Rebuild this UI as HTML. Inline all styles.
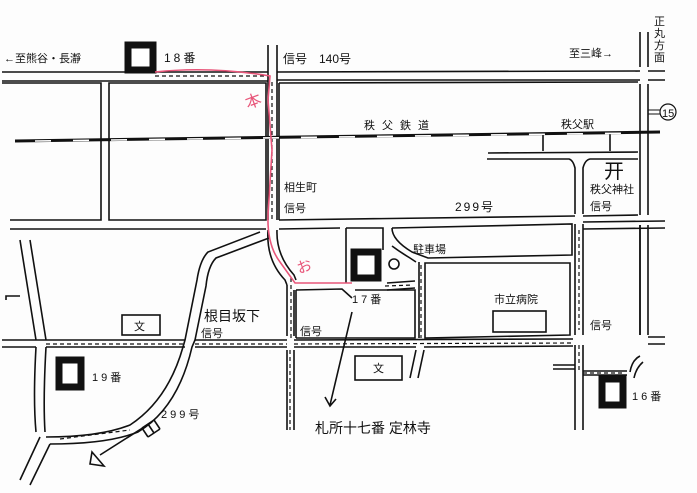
<!DOCTYPE html>
<html><head><meta charset="utf-8"><style>
html,body{margin:0;padding:0;background:#fff;}
svg{display:block;}
text{font-family:"Liberation Sans","Noto Sans CJK JP",sans-serif;fill:#111;}
</style></head><body>
<svg width="697" height="493" viewBox="0 0 697 493" xmlns="http://www.w3.org/2000/svg">
<rect width="697" height="493" fill="#fdfdfd"/>
<g fill="none" stroke="#111" stroke-width="1.6">
<path d="M2 72 L268 72 M277 72 L640 71 M2 81 L268 81 M277 80 L640 80"/>
<path d="M648 71 L665 71 M648 80 L665 80"/>
<path d="M640 32 L640 67 M648 32 L648 67"/>
<path d="M640 84 L640 215 M648 84 L648 215 M640 225 L640 335 M648 225 L648 335"/>
<path d="M648 337 L665 337 M648 344 L665 344"/>
<path d="M268 45 L268 220 M277 45 L277 220"/>
<path d="M2 83 L101 83 L101 220 L10 220"/>
<path d="M109 83 L266 83 L266 220 L109 220 Z"/>
<path d="M279 83 L638 82 M279 220 L279 83"/>
<path d="M543 135 L543 151 M610 134 L610 151"/>
<path d="M488 153 L638 152 M487 159 L569 159 Q573 160 575 168 L575 214 M583 214 L583 168 Q585 160 590 159 L638 159"/>
<path d="M279 220 L575 216 M583 216 L638 215"/>
<path d="M10 229 L266 229 M279 229 L340 228"/>
<path d="M575 224 L575 335 M583 224 L583 335 M640 225 L640 335"/>
<path d="M583 222 L665 221 M583 229 L665 228"/>
<path d="M346 228 L383 228 L383 250 M346 228 L346 283"/>
<path d="M392 228 L572 224 L572 255 L428 258 L412 252 Q392 240 392 228"/>
<path d="M392 246 Q400 252 410 258 L416 262"/>
<path d="M425 263 L570 263 L570 335 L425 338 Z"/>
<path d="M419 262 L419 338 M387 290 L415 288 M387 283 L415 281"/>
<path d="M296 290 L296 338 M296 290 L342 289 L352 298 M355 290 L415 290 L415 338 L296 338"/>
<path d="M287 285 L287 336 M287 350 L287 430 M294 350 L294 430 M294 290 L294 336"/>
<path d="M268 230 Q266 260 285 280 L287 285 M277 230 Q276 255 294 275 L296 280"/>
<path d="M2 340 L185 340 M195 340 L287 340 M294 340 L573 339 M2 347 L36 347 M46 347 L185 347 M195 347 L287 347 M294 347 L416 347 M424 347 L573 346"/>
<path d="M416 350 L410 378 M424 350 L418 378"/>
<path d="M553 365 L575 365 M553 369 L575 369 M575 345 L575 430 M583 345 L583 430"/>
<path d="M583 371 L627 371 M583 375 L627 375"/>
<path d="M640 356 Q632 360 630 372 M643 362 Q636 368 634 378"/>
<path d="M260 232 L208 252 Q200 260 197 280 L185 340 L183 347 Q168 400 130 425 Q100 437 46 437"/>
<path d="M269 238 L216 258 Q208 266 206 286 L195 340 L192 347 Q178 408 138 432 Q108 444 50 444"/>
<path d="M20 240 Q28 290 36 340 M30 240 Q38 290 46 340 M36 347 Q33 400 36 432 M46 347 Q43 400 45 432"/>
<path d="M20 296 L6 296 L6 300 M40 437 L20 480 M50 444 L30 485"/>
<rect x="122" y="315" width="38" height="20"/>
<rect x="355" y="356" width="47" height="24"/>
<rect x="493" y="311" width="53" height="21"/>
<path d="M352 312 L330 405 M325 397 L330 406 L336 399"/>
<path d="M152 422 L100 455 M92 452 L104 466 L90 464 Z"/>
<path d="M142 428 L148 437 M148 424 L154 433 M154 420 L160 429 M142 428 L154 420 M148 437 L160 429"/>
<circle cx="394" cy="264" r="5"/>
</g>
<g fill="none" stroke="#111" stroke-width="1.2" stroke-dasharray="4 3">
<path d="M155 76 L268 76 M272 82 L272 220"/>
<path d="M46 344 L185 344 M195 344 L287 344 M294 344 L573 343"/>
<path d="M290 350 L290 430 M579 230 L579 330 M579 345 L579 372 M583 373 L625 373"/>
<path d="M421 265 L421 338 M291 278 L291 338 M385 286 L413 285"/>
<path d="M60 439 L130 430"/>
</g>
<path d="M15 141 L660 132" stroke="#111" stroke-width="3"/>
<path d="M35 141 L640 133" stroke="#fff" stroke-width="1.6" stroke-dasharray="16 22"/>
<g fill="#fff" stroke="#111" stroke-width="7">
<rect x="128" y="45" width="25" height="25"/>
<rect x="354" y="252" width="24" height="26"/>
<rect x="59" y="360" width="22" height="27"/>
<rect x="602" y="379" width="21" height="26"/>
</g>
<path d="M155 72 Q210 66 270 76 L268 100 L272 150 L268 215 Q267 245 280 262 L295 283 L352 283" fill="none" stroke="#e8567a" stroke-width="1.6"/>
<text x="245" y="106" font-size="16" style="fill:#e8567a" transform="rotate(-20 255 100)">本</text>
<text x="296" y="273" font-size="15" style="fill:#e8567a" transform="rotate(-20 300 265)">お</text>
<circle cx="668" cy="112" r="8" fill="none" stroke="#111" stroke-width="1.2"/>
<path d="M648 110 L660 110 M648 114 L660 114" stroke="#111"/>
<text x="662" y="117" font-size="11">15</text>
<text x="604" y="178" font-size="20">开</text>
<g font-size="11">
<text x="4" y="62">←至熊谷・長瀞</text>
<text x="164" y="62" font-size="12" letter-spacing="3">18番</text>
<text x="283" y="63" font-size="12">信号　140号</text>
<text x="569" y="57">至三峰→</text>
<text x="654" y="25">正</text>
<text x="654" y="37">丸</text>
<text x="654" y="49">方</text>
<text x="654" y="61">面</text>
<text x="364" y="129" letter-spacing="7">秩父鉄道</text>
<text x="561" y="128">秩父駅</text>
<text x="590" y="193">秩父神社</text>
<text x="590" y="210">信号</text>
<text x="455" y="211" font-size="12" letter-spacing="2">299号</text>
<text x="284" y="191">相生町</text>
<text x="284" y="212">信号</text>
<text x="413" y="253">駐車場</text>
<text x="352" y="303" letter-spacing="3">17番</text>
<text x="494" y="303">市立病院</text>
<text x="590" y="329">信号</text>
<text x="134" y="330">文</text>
<text x="373" y="372">文</text>
<text x="204" y="321" font-size="14">根目坂下</text>
<text x="201" y="337">信号</text>
<text x="300" y="335">信号</text>
<text x="92" y="381" letter-spacing="3">19番</text>
<text x="632" y="400" letter-spacing="3">16番</text>
<text x="161" y="418" letter-spacing="3">299号</text>
<text x="315" y="433" font-size="14">札所十七番 定林寺</text>
</g>
</svg>
</body></html>
